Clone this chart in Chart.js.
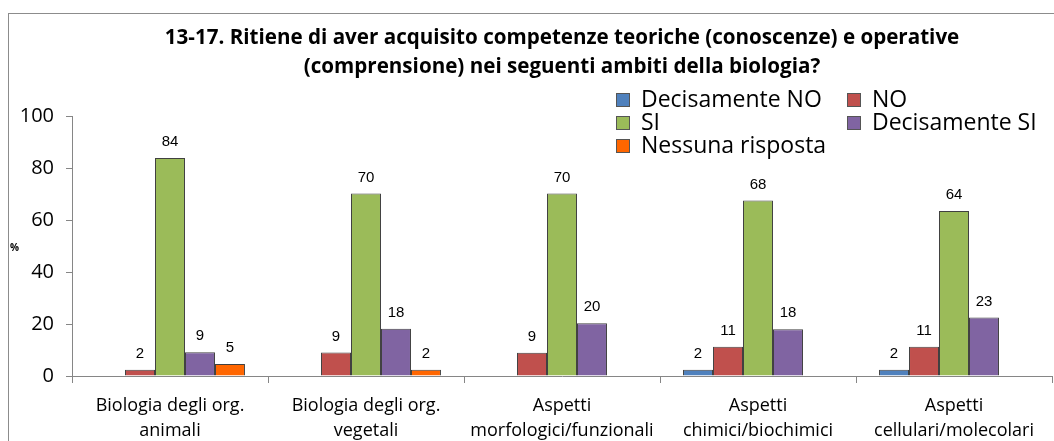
<!DOCTYPE html>
<html>
<head>
<meta charset="utf-8">
<script src="https://cdn.jsdelivr.net/npm/chart.js@4"></script>
<style>
  html, body { margin: 0; padding: 0; background: #fff; overflow: hidden; }
  #wrap { position: relative; width: 1054px; height: 441px; }
  #frame { position: absolute; left: 8px; top: 13px; width: 1100px; height: 500px; border: 1px solid #8c8c8c; }
  canvas { position: absolute; left: 0; top: 0; }
  #ylab { position: absolute; left: 10px; top: 240px; font: bold 10px "Open Sans", sans-serif; }
  #legend { position: absolute; left: 616px; top: 87px; width: 430px; font-family: "Open Sans", sans-serif; font-size: 23px; }
  #legend .it { position: absolute; white-space: nowrap; line-height: 23px; }
  #legend .sq { display: inline-block; width: 14px; height: 14px; border: 1px solid #555; vertical-align: 0px; margin-right: 11px; box-sizing: border-box; }
</style>
</head>
<body>
<div id="wrap">
  <div id="frame"></div>
  <canvas id="myChart" width="1054" height="441"></canvas>
  <div id="ylab">%</div>
  <div id="legend"></div>
</div>
<script>
var titolo = ['13-17. Ritiene di aver acquisito competenze teoriche (conoscenze) e operative', '(comprensione) nei seguenti ambiti della biologia?'];
var categorie = [
	['Biologia degli org.', 'animali'],
	['Biologia degli org.', 'vegetali'],
	['Aspetti', 'morfologici/funzionali'],
	['Aspetti', 'chimici/biochimici'],
	['Aspetti', 'cellulari/molecolari']
];
var serie = ['Decisamente NO', 'NO', 'SI', 'Decisamente SI', 'Nessuna risposta'];
var decNo = [0, 0, 0, 2.4, 2.4];
var no = [2.4, 9.1, 9.0, 11.3, 11.3];
var si = [84.1, 70.4, 70.4, 67.7, 63.6];
var decSi = [9.2, 18.2, 20.3, 18.0, 22.6];
var nessuna = [4.6, 2.4, 0, 0, 0];
var yTicks = [0, 20, 40, 60, 80, 100];

const colori = ['#4F81BD', '#C0504D', '#9BBB59', '#8064A2', '#FF6600'];
const valori = [decNo, no, si, decSi, nessuna];

// etichette sopra le barre
const etichette = {
	id: 'etichette',
	afterDatasetsDraw(chart) {
		const ctx = chart.ctx;
		ctx.save();
		ctx.font = '15px "Liberation Sans", Arial, sans-serif';
		ctx.fillStyle = '#000';
		ctx.textAlign = 'center';
		ctx.textBaseline = 'middle';
		chart.data.datasets.forEach((ds, i) => {
			const meta = chart.getDatasetMeta(i);
			meta.data.forEach((bar, j) => {
				const v = ds.data[j];
				if (!v) return;
				ctx.fillText(Math.round(v), bar.x, bar.y - 16);
			});
		});
		ctx.restore();
	}
};

const ctx = document.getElementById('myChart');
const myChart = new Chart(ctx, {
	type: 'bar',
	data: {
		labels: categorie,
		datasets: serie.map((s, i) => ({
			label: s,
			data: valori[i],
			backgroundColor: colori[i],
			borderColor: 'rgba(0,0,0,0.75)',
			borderWidth: 1,
			categoryPercentage: 0.765,
			barPercentage: 1
		}))
	},
	options: {
		responsive: false,
		animation: false,
		layout: { padding: { left: 0, right: 2, top: 0, bottom: 0 } },
		plugins: {
			legend: { display: false },
			tooltip: { enabled: false },
			title: {
				display: true,
				text: titolo,
				fullSize: false,
				color: '#000',
				font: { family: 'Open Sans', size: 20.6, weight: 'bold', lineHeight: 1.4 },
				padding: { top: 24, bottom: 35 }
			}
		},
		scales: {
			x: {
				grid: { offset: true, drawOnChartArea: false, tickLength: 7, color: '#868686' },
				border: { color: '#868686' },
				ticks: {
					color: '#000',
					padding: 10,
					maxRotation: 0,
					autoSkip: false,
					font: { family: 'Open Sans', size: 18, lineHeight: 1.39 }
				},
				afterFit: function(scale) { scale.height = 65; }
			},
			y: {
				min: 0,
				max: 100,
				afterBuildTicks: function(scale) { scale.ticks = yTicks.map(v => ({ value: v })); },
				grid: { drawOnChartArea: false, tickLength: 6, color: '#868686' },
				border: { color: '#868686' },
				ticks: {
					color: '#000',
					padding: 12,
					font: { family: 'Open Sans', size: 20 }
				},
				afterFit: function(scale) { scale.width = 72; }
			}
		}
	},
	plugins: [etichette]
});

// legenda html
const pos = [[0, 0], [231, 0], [0, 23], [231, 23], [0, 46]];
const leg = document.getElementById('legend');
serie.forEach((s, i) => {
	const d = document.createElement('div');
	d.className = 'it';
	d.style.left = pos[i][0] + 'px';
	d.style.top = pos[i][1] + 'px';
	d.innerHTML = '<span class="sq" style="background:' + colori[i] + '"></span>' + s;
	leg.appendChild(d);
});
</script>
</body>
</html>
